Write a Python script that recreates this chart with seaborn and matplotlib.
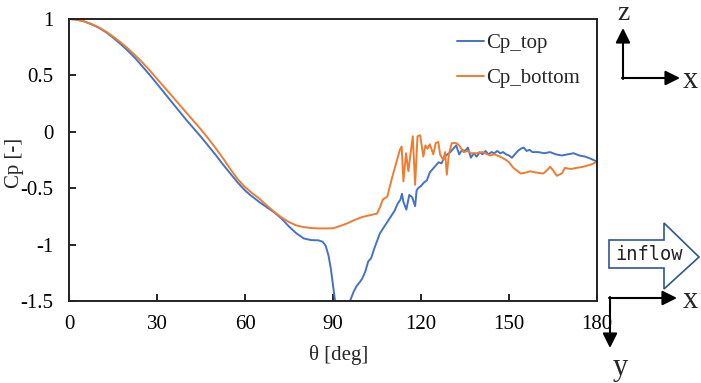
import numpy as np
import pandas as pd
import seaborn as sns
import matplotlib.pyplot as plt
from matplotlib.patches import Polygon

# Cp on the top side
theta_top = [0, 2.5, 5, 7.5, 10, 12.5, 15, 17.5, 20, 22.5, 25, 27.5, 30, 32.5, 35, 37.5,
             40, 42.5, 45, 47.5, 50, 52.5, 55, 57.5, 60, 62.5, 65, 67.5, 70, 72.5, 75, 77.5,
             80, 82.5, 85, 86.5, 87.5, 88.5, 89.3, 90, 90.7, 92, 94.5, 95.8, 97, 98, 99.2,
             100, 101, 102, 103, 104, 105, 106, 107, 108, 109, 110, 111, 112, 113, 113.5,
             114, 115, 116, 117, 118, 118.5, 119, 120, 121, 122, 123, 124, 125, 126, 127,
             128, 129, 130, 131, 132, 133, 134, 135, 136, 137, 138, 139, 140, 141, 142, 143,
             144, 145, 146, 147, 148, 149, 150, 151, 152, 153, 154, 155, 156, 157, 158, 160,
             162, 164, 166, 168, 170, 172, 174, 176, 178, 180]
cp_top = [1.0, 0.995, 0.98, 0.955, 0.925, 0.885, 0.835, 0.78, 0.72, 0.655, 0.58, 0.505,
          0.425, 0.345, 0.265, 0.185, 0.105, 0.03, -0.045, -0.125, -0.205, -0.29, -0.37,
          -0.45, -0.52, -0.575, -0.625, -0.67, -0.715, -0.77, -0.84, -0.9, -0.945, -0.96,
          -0.962, -0.975, -1.01, -1.1, -1.22, -1.36, -1.5, -1.7, -1.7, -1.5, -1.42, -1.37,
          -1.33, -1.3, -1.24, -1.15, -1.12, -1.04, -0.97, -0.9, -0.86, -0.82, -0.78, -0.74,
          -0.7, -0.64, -0.6, -0.55, -0.62, -0.69, -0.56, -0.58, -0.66, -0.52, -0.5, -0.48,
          -0.45, -0.43, -0.36, -0.33, -0.3, -0.27, -0.28, -0.22, -0.2, -0.18, -0.15, -0.12,
          -0.2, -0.16, -0.17, -0.14, -0.23, -0.19, -0.22, -0.18, -0.2, -0.17, -0.2, -0.18,
          -0.19, -0.17, -0.19, -0.18, -0.2, -0.21, -0.23, -0.2, -0.17, -0.15, -0.14, -0.17,
          -0.16, -0.18, -0.18, -0.19, -0.18, -0.2, -0.21, -0.2, -0.19, -0.21, -0.22, -0.24,
          -0.265]

# Cp on the bottom side
theta_bot = [0, 2.5, 5, 7.5, 10, 12.5, 15, 17.5, 20, 22.5, 25, 27.5, 30, 32.5, 35, 37.5,
             40, 42.5, 45, 47.5, 50, 52.5, 55, 57.5, 60, 62.5, 65, 67.5, 70, 72.5, 75, 77.5,
             80, 82.5, 85, 87.5, 90, 92.5, 95, 97.5, 100, 102.5, 105, 106, 107, 108.5, 110,
             111.5, 112.8, 113.4, 114, 114.9, 115.7, 116.3, 117.2, 118, 118.8, 119.7, 120.8,
             121.5, 122.2, 123, 124.2, 125, 125.9, 126.5, 127.6, 128.2, 128.8, 129.5, 130.5,
             132, 133, 134.5, 136, 137, 139, 141, 143.5, 145, 147, 149, 150, 151.5, 153, 154,
             156, 157.2, 159, 161.7, 163, 164, 165, 166.3, 168, 169.1, 171, 173, 175.3, 178,
             180]
cp_bot = [1.0, 0.995, 0.98, 0.957, 0.928, 0.89, 0.845, 0.795, 0.74, 0.68, 0.615, 0.545,
          0.47, 0.395, 0.32, 0.245, 0.17, 0.095, 0.02, -0.06, -0.145, -0.235, -0.33, -0.42,
          -0.49, -0.545, -0.595, -0.655, -0.71, -0.76, -0.8, -0.83, -0.845, -0.853, -0.856,
          -0.857, -0.855, -0.835, -0.81, -0.78, -0.755, -0.74, -0.725, -0.67, -0.6, -0.575,
          -0.42, -0.28, -0.16, -0.13, -0.44, -0.19, -0.35, -0.22, -0.04, -0.47, -0.04, -0.03,
          -0.22, -0.12, -0.15, -0.11, -0.2, -0.1, -0.09, -0.2, -0.25, -0.18, -0.38, -0.2,
          -0.1, -0.1, -0.12, -0.18, -0.17, -0.19, -0.19, -0.18, -0.21, -0.2, -0.22, -0.25,
          -0.27, -0.32, -0.35, -0.37, -0.36, -0.35, -0.36, -0.37, -0.34, -0.31, -0.34, -0.39,
          -0.37, -0.32, -0.33, -0.32, -0.31, -0.29, -0.265]

df = pd.concat([
    pd.DataFrame({'theta': theta_top, 'Cp': cp_top, 'side': 'Cp_top'}),
    pd.DataFrame({'theta': theta_bot, 'Cp': cp_bot, 'side': 'Cp_bottom'}),
])

sns.set_style('ticks')
plt.rcParams['font.family'] = ['Liberation Serif', 'DejaVu Serif']

fig = plt.figure(figsize=(7.01, 3.83), dpi=100)
ax = fig.add_axes([69 / 701, 1 - 301 / 383, 528 / 701, 282 / 383])

sns.lineplot(data=df, x='theta', y='Cp', hue='side', estimator=None, sort=False,
             palette={'Cp_top': '#4472C4', 'Cp_bottom': '#ED7D31'}, linewidth=1.4, ax=ax)

ax.set_xlim(0, 180)
ax.set_ylim(-1.5, 1)
ax.set_xticks([0, 30, 60, 90, 120, 150, 180])
ax.set_yticks([-1.5, -1, -0.5, 0, 0.5, 1])
ax.set_yticklabels(['-1.5', '-1', '-0.5', '0', '0.5', '1'])
ax.tick_params(direction='in', length=5, width=1.2, labelsize=15, colors='black')
ax.tick_params(axis='x', pad=10)
ax.tick_params(axis='y', pad=11)
for s in ax.spines.values():
    s.set_linewidth(1.4)
    s.set_color('#222222')

ax.set_xlabel('θ [deg]', fontsize=15)
ax.set_ylabel('Cp [-]', fontsize=15)
ax.xaxis.set_label_coords(0.51, -0.155)
ax.yaxis.set_label_coords(-0.085, 0.49)

ax.legend(loc='upper right', frameon=False, fontsize=15, handlelength=1.3,
          handletextpad=0.1, labelspacing=0.75, borderaxespad=0.3, bbox_to_anchor=(0.995, 1.0))

# coordinate glyphs and inflow arrow
arw = dict(arrowstyle='-|>', color='black', lw=1.5, mutation_scale=22, shrinkA=0, shrinkB=0)
def fxy(px, py):
    return (px / 701, 1 - py / 383)

ax.annotate('', xy=fxy(623, 28), xytext=fxy(623, 79), xycoords='figure fraction',
            textcoords='figure fraction', arrowprops=arw)
ax.annotate('', xy=fxy(680, 78), xytext=fxy(622, 78), xycoords='figure fraction',
            textcoords='figure fraction', arrowprops=arw)
fig.text(*fxy(623, 14), 'z', fontsize=20, ha='center', va='center')
fig.text(*fxy(690, 80), 'x', fontsize=22, ha='center', va='center')

ax.annotate('', xy=fxy(677, 298), xytext=fxy(609, 298), xycoords='figure fraction',
            textcoords='figure fraction', arrowprops=arw)
ax.annotate('', xy=fxy(610, 348), xytext=fxy(610, 297), xycoords='figure fraction',
            textcoords='figure fraction', arrowprops=arw)
fig.text(*fxy(690, 300), 'x', fontsize=22, ha='center', va='center')
fig.text(*fxy(620, 368), 'y', fontsize=22, ha='center', va='center')

inflow = [(609, 240), (664, 240), (664, 223), (699, 257), (664, 289), (664, 268), (609, 268)]
fig.patches.append(Polygon([fxy(x, y) for x, y in inflow], closed=True, fc='white',
                           ec='#2F5597', lw=1.2, transform=fig.transFigure, figure=fig))
fig.text(*fxy(649, 255), 'inflow', fontsize=13.5, ha='center', va='center',
         family='DejaVu Sans Mono', color='#222222')

fig.savefig('out.png', dpi=100)
